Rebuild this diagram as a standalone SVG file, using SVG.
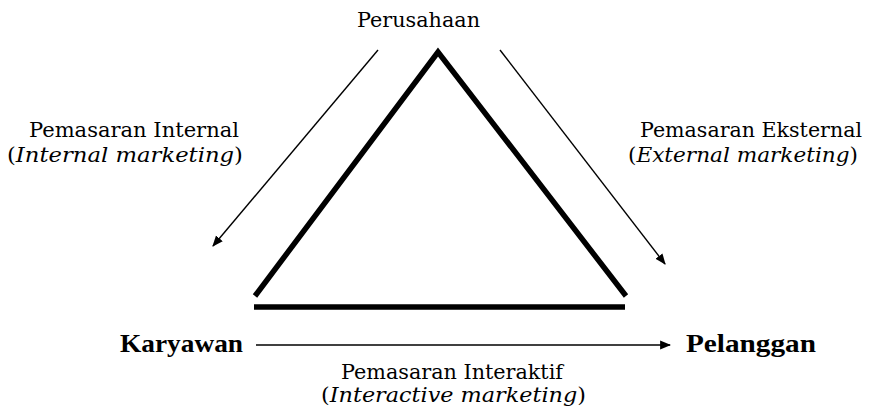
<svg xmlns="http://www.w3.org/2000/svg" width="870" height="407" viewBox="0 0 870 407">
<style>
text{font-family:"DejaVu Serif","Liberation Serif",serif;font-size:20px;fill:#000}
.b{font-family:"Liberation Serif","DejaVu Serif",serif;font-weight:bold;font-size:25px}
.i{font-style:italic}
.thick{stroke:#000;stroke-width:5.5;fill:none;stroke-linecap:butt}
.thin{stroke:#000;stroke-width:1.4;fill:none}
</style>
<defs>
<marker id="ah" viewBox="0 0 10 10" refX="9" refY="5" markerWidth="11" markerHeight="11" markerUnits="userSpaceOnUse" orient="auto">
<path d="M0,1 L10,5 L0,9 Z" fill="#000"/>
</marker>
</defs>
<rect width="870" height="407" fill="#fff"/>
<g id="triangle">
<polyline class="thick" points="255,296 438,52 626,296" stroke-linejoin="miter"/>
<line class="thick" x1="254" y1="307" x2="625" y2="307"/>
</g>
<g id="connectors">
<line class="thin" x1="378" y1="50" x2="213" y2="246" marker-end="url(#ah)"/>
<line class="thin" x1="500" y1="50" x2="665" y2="264" marker-end="url(#ah)"/>
<line class="thin" x1="256" y1="345" x2="670" y2="345" marker-end="url(#ah)"/>
</g>
<g id="perusahaan"><text x="357" y="27" textLength="123" lengthAdjust="spacingAndGlyphs">Perusahaan</text></g>
<g id="karyawan"><text class="b" x="120" y="352" textLength="123" lengthAdjust="spacingAndGlyphs">Karyawan</text></g>
<g id="pelanggan"><text class="b" x="686" y="352" textLength="130" lengthAdjust="spacingAndGlyphs">Pelanggan</text></g>
<g id="label-internal">
<text x="29" y="137" textLength="210" lengthAdjust="spacingAndGlyphs">Pemasaran Internal</text>
<text x="7" y="162" textLength="236" lengthAdjust="spacingAndGlyphs">(<tspan class="i">Internal marketing</tspan>)</text>
</g>
<g id="label-eksternal">
<text x="640" y="137" textLength="222" lengthAdjust="spacingAndGlyphs">Pemasaran Eksternal</text>
<text x="628" y="162" textLength="230" lengthAdjust="spacingAndGlyphs">(<tspan class="i">External marketing</tspan>)</text>
</g>
<g id="label-interaktif">
<text x="341" y="379" textLength="222" lengthAdjust="spacingAndGlyphs">Pemasaran Interaktif</text>
<text x="321" y="402" textLength="265" lengthAdjust="spacingAndGlyphs">(<tspan class="i">Interactive marketing</tspan>)</text>
</g>
</svg>
